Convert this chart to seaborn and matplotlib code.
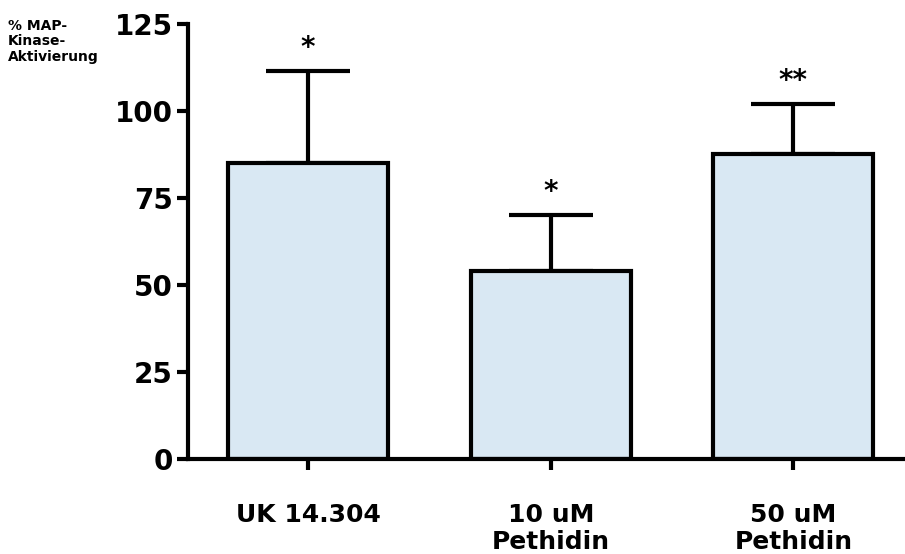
import pandas as pd
import matplotlib.pyplot as plt
import seaborn as sns

# --- data ---
groups = ['UK 14.304', '10 uM\nPethidin', '50 uM\nPethidin']
activation = [85, 54, 87.5]
sem_upper = [26.5, 16, 14.5]
stars = ['*', '*', '**']
yticks = [0, 25, 50, 75, 100, 125]

df = pd.DataFrame({'group': groups, 'activation': activation})

sns.set_style('white')
plt.rcParams['font.family'] = ['DejaVu Sans']
plt.rcParams['font.weight'] = 'bold'
plt.rcParams['text.color'] = 'black'
plt.rcParams['xtick.color'] = 'black'
plt.rcParams['ytick.color'] = 'black'

fig = plt.figure(figsize=(9.05, 5.54), dpi=100)
ax = fig.add_axes([0.2077, 0.1715, 0.7923, 0.7852])

sns.barplot(data=df, x='group', y='activation', color='#d9e8f3',
            edgecolor='black', linewidth=3, width=0.66, errorbar=None,
            saturation=1, ax=ax, zorder=2)

# one-sided error bars (upper only)
ax.errorbar(range(len(groups)), activation,
            yerr=[[0] * len(groups), sem_upper],
            fmt='none', ecolor='black', elinewidth=3, capsize=30,
            capthick=3, zorder=1)

# significance stars
for i, (v, e, s) in enumerate(zip(activation, sem_upper, stars)):
    ax.text(i, v + e + 4.3, s, ha='center', va='baseline',
            fontsize=20, fontweight='bold')

ax.set_ylim(0, 125)
ax.set_xlim(-0.495, 2.46)
ax.set_yticks(yticks)
ax.set_yticklabels([str(t) for t in yticks], fontsize=20, fontweight='bold')
ax.set_xticks(range(len(groups)))
ax.set_xticklabels(groups, fontsize=18, fontweight='bold', linespacing=1.15)
ax.set_xlabel('')
ax.set_ylabel('')

for side in ['top', 'right']:
    ax.spines[side].set_visible(False)
for side in ['left', 'bottom']:
    ax.spines[side].set_linewidth(3)
    ax.spines[side].set_color('black')

ax.tick_params(axis='y', direction='out', length=8, width=3, pad=3, left=True)
ax.tick_params(axis='x', direction='out', length=8, width=3, pad=24, bottom=True)

fig.text(0.009, 0.965, '% MAP-\nKinase-\nAktivierung', ha='left', va='top',
         fontsize=10, fontweight='bold', linespacing=1.1)

fig.savefig('out.png', dpi=100)
